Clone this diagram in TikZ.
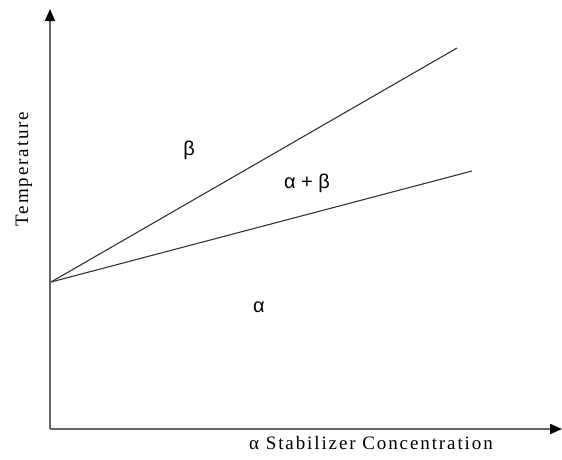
\documentclass[tikz,border=0pt]{standalone}
\usepackage{fontspec}
\setmainfont{Liberation Serif}
\newfontfamily\greekfont{Liberation Sans}
\newfontfamily\spacedserif[LetterSpace=10]{Liberation Serif}
\usetikzlibrary{arrows.meta}
\begin{document}
\begin{tikzpicture}[x=1pt,y=-1pt,
  axis/.style={draw=black!60, line width=1.8pt, -{Triangle[length=12pt,width=10pt,color=black]}},
  phase/.style={draw=black!80, line width=1.1pt},
  axlabel/.style={font=\fontsize{19}{21}\spacedserif, inner sep=0pt},
  greek/.style={font=\fontsize{20}{22}\greekfont, inner sep=0pt}]
\useasboundingbox (0,0) rectangle (562,459);
\coordinate (O) at (50,429);
\coordinate (Ytop) at (50,9);
\coordinate (Xend) at (562,429);
\coordinate (P) at (51,282);
\coordinate (A) at (457,48);
\coordinate (B) at (472,171);
\draw[axis] (O) -- (Ytop);
\draw[axis] (O) -- (Xend);
\draw[phase] (P) -- (A);
\draw[phase] (P) -- (B);
\node[axlabel, rotate=90] (temp) at (24,169) {Temperature};
\node[axlabel] (conc) at (371,443) {α Stabilizer Concentration};
\node[greek] (beta) at (189,150) {β};
\node[greek] (ab) at (307,183) {α + β};
\node[greek] (alpha) at (259,307) {α};
\end{tikzpicture}
\end{document}
